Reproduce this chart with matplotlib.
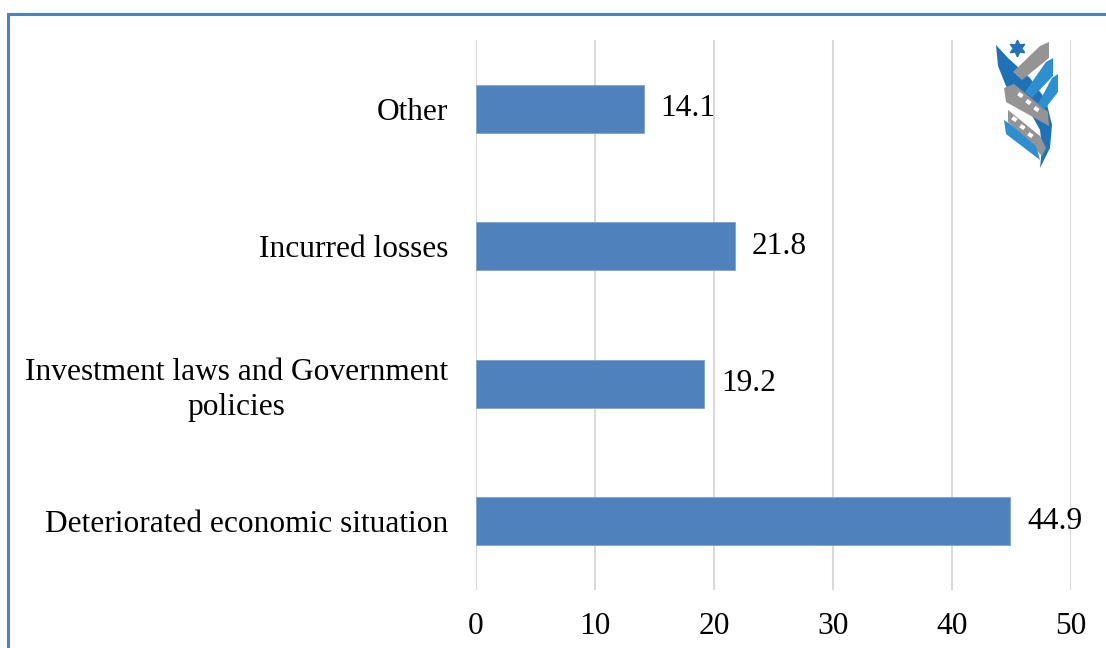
import matplotlib
matplotlib.use("Agg")
import matplotlib.pyplot as plt
from matplotlib.patches import Polygon, Rectangle

# Reasons reported, bottom to top as drawn
categories = [
    "Deteriorated economic situation",
    "Investment laws and Government\npolicies",
    "Incurred losses",
    "Other",
]
values = [44.9, 19.2, 21.8, 14.1]
x_ticks = [0, 10, 20, 30, 40, 50]

bar_color = "#4F81BD"
grid_color = "#D9D9D9"
font = "Liberation Serif"
fsize = 22.6

plt.rcParams["font.family"] = [font, "DejaVu Serif"]

fig = plt.figure(figsize=(11.06, 6.48), dpi=100)

# thin frame around the chart area
fig.patches.append(Rectangle((8 / 1106, -0.05), 1.1, 1 - 14 / 648 + 0.05,
                             transform=fig.transFigure, fill=False,
                             edgecolor="#4F81BD", linewidth=2.2, zorder=0))

ax = fig.add_axes([476 / 1106, 1 - 590 / 648, 595 / 1106, 550 / 648])
ypos = range(len(categories))
ax.barh(ypos, values, height=0.35, color=bar_color, edgecolor="#7FA3D0",
        linewidth=0.6, zorder=3)

for y, v in zip(ypos, values):
    ax.text(v + 1.4, y, f"{v:.1f}", va="center", ha="left", fontsize=fsize,
            color="black")

ax.set_xlim(0, 50)
ax.set_ylim(-0.5, len(categories) - 0.5)
ax.set_xticks(x_ticks)
ax.set_yticks(list(ypos))
ax.set_yticklabels(categories, ha="right", multialignment="center",
                   linespacing=1.25)
ax.tick_params(axis="both", length=0, labelsize=fsize)
ax.tick_params(axis="x", pad=16)
ax.tick_params(axis="y", pad=20)

ax.grid(axis="x", color=grid_color, linewidth=1.5, zorder=0)
for s in ax.spines.values():
    s.set_visible(False)

# small emblem in the top right corner
logo = fig.add_axes([993 / 1106, 1 - 172 / 648, 70 / 1106, 140 / 648])
logo.set_xlim(993, 1063)
logo.set_ylim(172, 32)
logo.axis("off")
blue = "#2E8FD0"
dark_blue = "#1F72B8"
gray = "#949494"
shapes = [
    # main blue swoosh
    ([(996, 45), (1008, 58), (1030, 78), (1046, 100), (1052, 125), (1050, 148),
      (1040, 168), (1042, 148), (1040, 130), (1030, 112), (1006, 86),
      (998, 66)], dark_blue),
    # gray bands
    ([(1040, 46), (1049, 42), (1049, 58), (1022, 80), (1013, 72)], gray),
    ([(1004, 88), (1014, 84), (1048, 112), (1049, 126), (1006, 102)], gray),
    ([(1008, 110), (1040, 136), (1046, 148), (1042, 156), (1008, 122)], gray),
    # blue bands on the right
    ([(1046, 62), (1053, 58), (1053, 76), (1032, 98), (1025, 92)], blue),
    ([(1052, 78), (1058, 74), (1058, 92), (1044, 110), (1038, 104)], blue),
    ([(1004, 120), (1010, 124), (1036, 146), (1040, 160), (1006, 134)], blue),
]
for pts, col in shapes:
    logo.add_patch(Polygon(pts, closed=True, facecolor=col, edgecolor="none"))
logo.plot([1017], [48], marker=(6, 1, 0), markersize=12, color=dark_blue,
          linestyle="none")
# gaps forming the ladder pattern
for cx, cy in [(1022, 94), (1030, 101), (1038, 108), (1016, 118), (1024, 126),
               (1032, 134)]:
    logo.add_patch(Rectangle((cx - 2.5, cy - 2), 5, 4, facecolor="white",
                             edgecolor="none", angle=35))

fig.savefig("out.png", dpi=100, facecolor="white")
